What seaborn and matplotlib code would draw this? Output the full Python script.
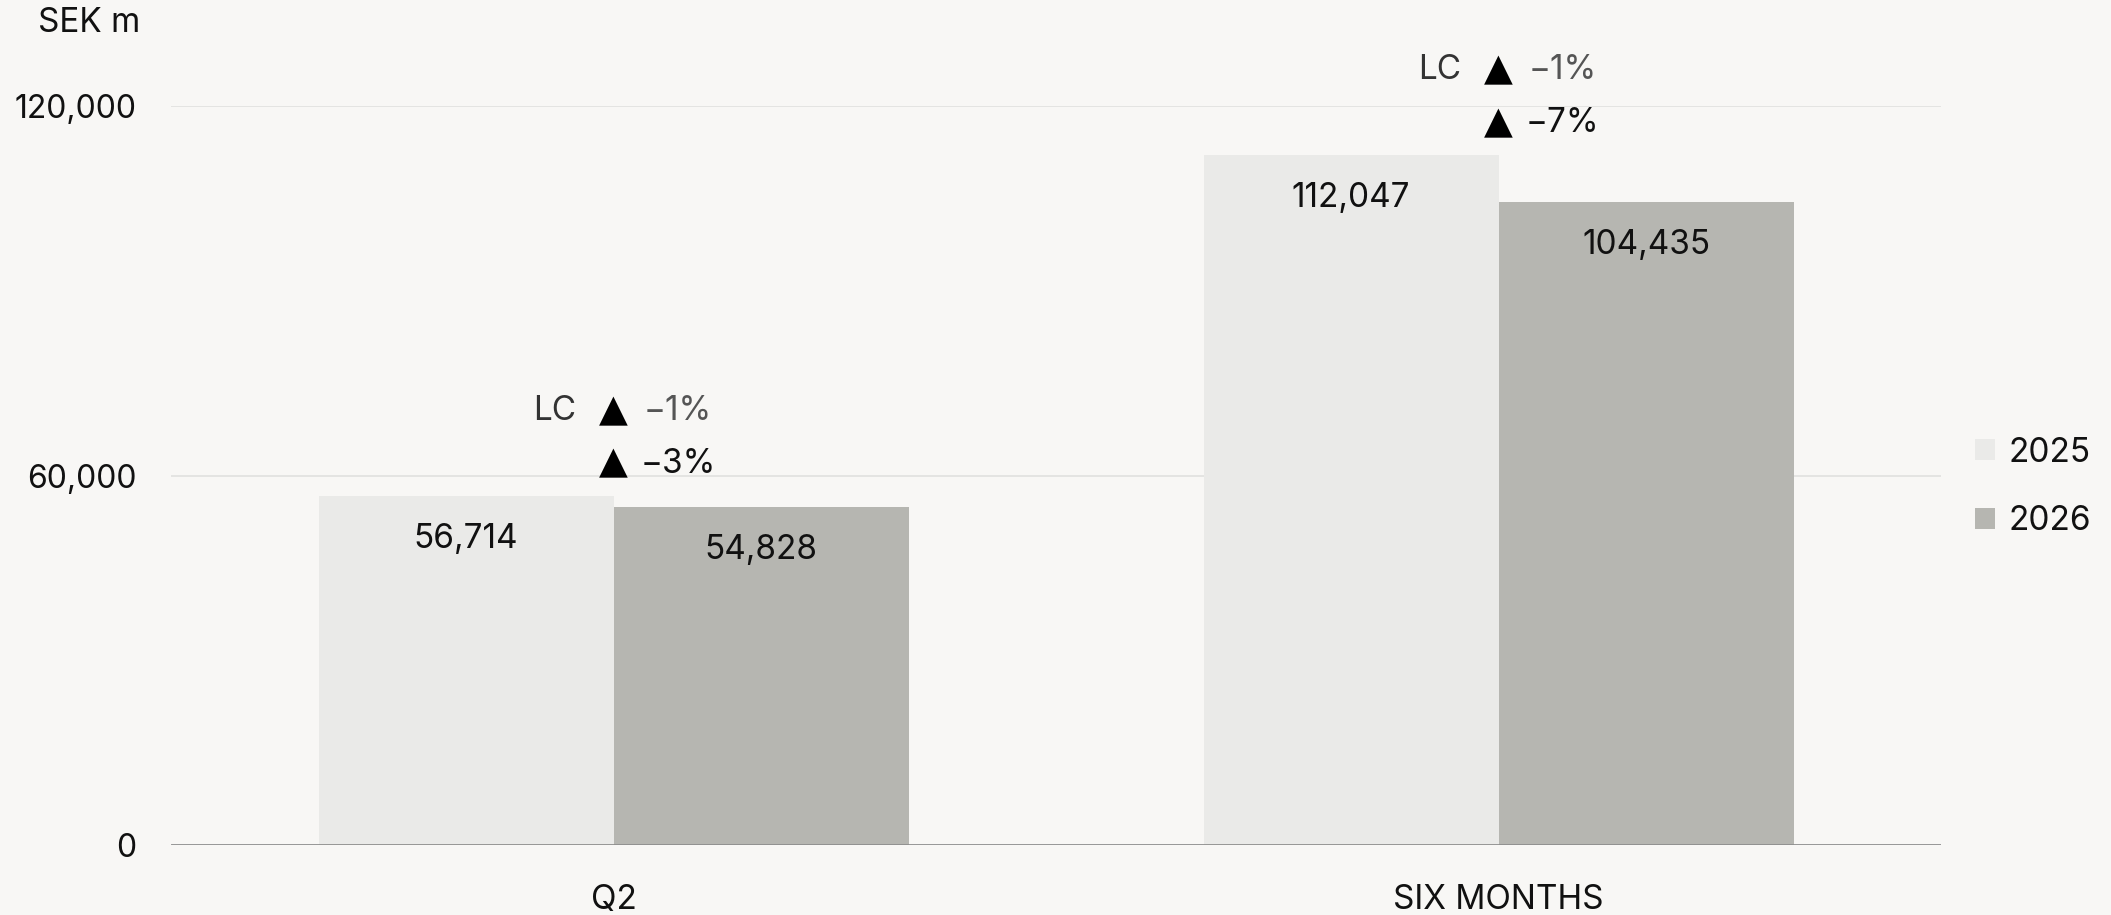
import matplotlib
matplotlib.use("Agg")
import matplotlib.pyplot as plt
import seaborn as sns
import pandas as pd

categories = ["Q2", "SIX MONTHS"]
years = ["2025", "2026"]
values_2025 = [56714, 112047]
values_2026 = [54828, 104435]
lc_change = ["\u22121%", "\u22121%"]
reported_change = ["\u22123%", "\u22127%"]
y_ticks = [0, 60000, 120000]
unit_label = "SEK m"

df = pd.DataFrame({
    "category": categories * 2,
    "year": [years[0]] * 2 + [years[1]] * 2,
    "value": values_2025 + values_2026,
})

sns.set_theme(style="white")
plt.rcParams["font.family"] = ["Inter", "DejaVu Sans"]

BG = "#F8F7F5"
colors = {"2025": "#EAEAE8", "2026": "#B6B6B1"}
FS = 24

fig = plt.figure(figsize=(21.11, 9.15), dpi=100, facecolor=BG)
ax = fig.add_axes([171 / 2111, 1 - 845 / 915, (1941 - 171) / 2111, (845 - 106) / 915])
ax.set_facecolor(BG)

sns.barplot(data=df, x="category", y="value", hue="year", order=categories,
            hue_order=years, palette=colors, width=2 / 3, saturation=1,
            edgecolor="none", linewidth=0, ax=ax, legend=True)

ax.set_ylim(0, 120000)
ax.set_xlim(-0.5, 1.5)
ax.set_yticks(y_ticks)
ax.set_yticklabels([f"{v:,}" for v in y_ticks])
for y in y_ticks[1:]:
    ax.axhline(y, color="#E2E2E0", lw=1.3, zorder=0)
ax.axhline(0, color="#8E8E8E", lw=2, zorder=3)
for s in ax.spines.values():
    s.set_visible(False)
ax.tick_params(axis="y", length=0, pad=25, labelsize=23, labelcolor="#111111")
ax.tick_params(axis="x", length=0, pad=28, labelsize=24, labelcolor="#111111")
ax.set_xlabel("")
ax.set_ylabel("")

# value labels inside bars
for cont in ax.containers:
    for p in cont.patches:
        h = p.get_height()
        ax.annotate(f"{h:,.0f}", xy=(p.get_x() + p.get_width() / 2, h),
                    xytext=(0, -31), textcoords="offset points",
                    ha="center", va="center", fontsize=FS, color="#111111")

# change annotations
for i, cat in enumerate(categories):
    top = max(values_2025[i], values_2026[i])
    ax.annotate("\u25B2", xy=(i, top), xytext=(0, 61), textcoords="offset points",
                ha="center", va="center", fontsize=27, color="black",
                family="DejaVu Sans", annotation_clip=False)
    ax.annotate("LC", xy=(i, top), xytext=(-27, 61), textcoords="offset points",
                ha="right", va="center", fontsize=FS, color="#333333",
                annotation_clip=False)
    ax.annotate(lc_change[i], xy=(i, top), xytext=(21.5, 61), textcoords="offset points",
                ha="left", va="center", fontsize=FS, color="#555555",
                annotation_clip=False)
    ax.annotate("\u25B2", xy=(i, top), xytext=(0, 23), textcoords="offset points",
                ha="center", va="center", fontsize=27, color="black",
                family="DejaVu Sans", annotation_clip=False)
    ax.annotate(reported_change[i], xy=(i, top), xytext=(19.5, 23), textcoords="offset points",
                ha="left", va="center", fontsize=FS, color="#111111",
                annotation_clip=False)

fig.text(38 / 2111, 1 - 23 / 915, unit_label, ha="left", va="center",
         fontsize=24, color="#111111")

handles, labels = ax.get_legend_handles_labels()
ax.get_legend().remove()
leg = fig.legend(handles, labels, loc="center left",
                 bbox_to_anchor=(1975 / 2111, 1 - 487 / 915), frameon=False,
                 fontsize=FS, handlelength=0.6, handleheight=0.6,
                 handletextpad=0.4, labelspacing=1.1, borderaxespad=0,
                 borderpad=0)
for t in leg.get_texts():
    t.set_color("#111111")

fig.savefig("out.png", dpi=100, facecolor=BG)
